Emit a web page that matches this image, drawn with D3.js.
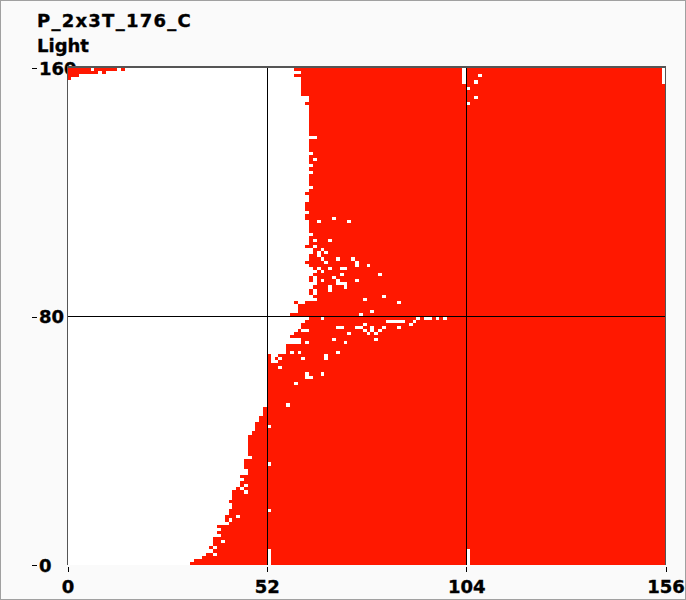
<!DOCTYPE html>
<html>
<head>
<meta charset="utf-8">
<script src="https://cdn.jsdelivr.net/npm/d3@7"></script>
<style>
  html, body { margin: 0; padding: 0; background: #fafafa; }
  svg { display: block; }
  text { font-family: "DejaVu Sans", sans-serif; font-weight: bold; fill: #000; stroke: #000; stroke-width: 0.35px; }
</style>
</head>
<body>
<div id="chart"></div>
<script>
const title = "P_2x3T_176_C";
const subtitle = "Light";
const xTicks = [0, 52, 104, 156];
const yTicks = [0, 80, 160];

// first red column of every row, top row first
const redStart = [
  59, 61, 59, 61, 61, 61, 61, 61, 61, 63,
  63, 62, 63, 63, 63, 63, 63, 63, 63, 63,
  63, 63, 65, 63, 63, 63, 63, 64, 63, 63,
  63, 64, 63, 64, 63, 63, 63, 63, 64, 63,
  62, 63, 63, 62, 62, 62, 63, 62, 62, 63,
  63, 63, 63, 64, 63, 63, 63, 62, 64, 64,
  63, 63, 62, 63, 64, 65, 64, 63, 63, 65,
  64, 63, 63, 64, 65, 62, 60, 60, 60, 58,
  63, 62, 61, 61, 60, 59, 58, 61, 61, 57,
  57, 57, 52, 52, 52, 52, 52, 52, 52, 52,
  52, 52, 52, 52, 52, 52, 52, 52, 52, 51,
  51, 51, 50, 50, 49, 49, 49, 48, 47, 47,
  47, 47, 47, 47, 47, 48, 46, 46, 46, 47,
  47, 45, 46, 45, 45, 44, 43, 43, 43, 42,
  43, 43, 42, 42, 41, 41, 42, 39, 40, 39,
  40, 38, 38, 38, 37, 38, 36, 35, 33, 32
];

// [column, row from top]
const whiteCells = [
  [103, 0], [103, 1], [103, 2], [103, 3], [103, 4],
  [155, 0], [155, 1], [155, 2], [155, 3], [155, 4],
  [107, 2], [106, 4], [104, 6], [106, 9], [104, 11],
  [64, 29], [65, 49], [69, 48], [73, 49],
  [64, 55], [68, 55], [64, 57], [66, 58], [67, 59], [65, 59], [65, 60],
  [66, 61], [70, 61], [74, 61], [67, 62], [75, 62], [75, 63], [78, 63],
  [65, 64], [68, 64], [71, 64], [72, 64], [66, 65], [71, 66], [81, 66],
  [69, 67], [64, 67], [64, 68], [66, 68], [70, 68], [70, 69], [71, 69],
  [72, 69], [72, 70], [75, 68], [68, 70], [68, 71], [64, 71], [64, 72],
  [82, 73], [77, 74], [86, 75], [79, 78], [76, 79],
  [66, 80], [91, 80], [93, 80], [94, 80], [96, 80], [98, 80],
  [61, 81], [83, 81], [84, 81], [85, 81], [86, 81], [87, 81], [90, 81],
  [77, 82], [89, 82], [70, 83], [71, 83], [75, 83], [76, 83], [79, 83],
  [82, 83], [86, 83], [77, 84], [79, 84], [81, 84], [61, 84], [62, 84],
  [73, 85], [78, 85], [80, 85], [69, 87], [80, 87], [62, 88], [72, 88],
  [58, 91], [60, 91], [70, 91], [67, 92], [67, 93], [61, 93], [55, 93],
  [53, 92], [54, 92], [53, 93], [53, 94], [54, 94], [55, 96],
  [62, 98], [62, 99], [63, 99], [66, 98], [59, 101], [57, 108],
  [52, 115], [52, 127], [46, 134], [45, 135], [46, 136], [52, 142],
  [44, 144], [42, 145], [40, 152], [38, 154], [38, 156],
  [52, 155], [52, 156], [52, 157], [52, 158], [52, 159],
  [104, 155], [104, 156], [104, 157], [104, 158], [104, 159]
];

// red cells inside the white area
const redCells = [
  [59, 75],
  [0, 0], [1, 0], [2, 0], [3, 0], [4, 0], [5, 0], [7, 0], [8, 0], [9, 0], [10, 0], [11, 0], [12, 0], [14, 0],
  [0, 1], [1, 1], [2, 1], [3, 1], [4, 1], [5, 1], [6, 1], [7, 1], [9, 1],
  [0, 2], [1, 2], [2, 2],
  [0, 3]
];

const width = 686, height = 600;
const plot = {left: 67.5, right: 665.5, top: 68, bottom: 565};
const red = "#ff1800";

const x = d3.scaleLinear().domain([0, 156]).range([plot.left, plot.right]);
const y = d3.scaleLinear().domain([0, 160]).range([plot.bottom, plot.top]);

// row 0 is the top one, so it holds y values 159 to 160
const rowTop = r => y(160 - r);
const rowBottom = r => y(159 - r);

const svg = d3.select("#chart").append("svg")
  .attr("width", width)
  .attr("height", height);

svg.append("rect")
  .attr("x", 0.5).attr("y", 0.5)
  .attr("width", width - 1).attr("height", height - 1)
  .attr("fill", "#fafafa")
  .attr("stroke", "#a0a0a0");

svg.append("text").attr("x", 37).attr("y", 27).style("font-size", "18px").style("letter-spacing", "1.25px").text(title);
svg.append("text").attr("x", 37).attr("y", 52).style("font-size", "18px").text(subtitle);

const yAxis = svg.append("g")
  .attr("transform", `translate(37,0)`)
  .call(d3.axisLeft(y).tickValues(yTicks).tickSize(5).tickPadding(-6));
yAxis.select(".domain").remove();
yAxis.selectAll("text")
  .attr("text-anchor", "start")
  .attr("x", 2)
  .attr("dy", "0.36em")
  .style("font-size", "18px");

const xAxis = svg.append("g")
  .attr("transform", `translate(0,${plot.bottom + 2})`)
  .call(d3.axisBottom(x).tickValues(xTicks).tickSize(5).tickPadding(8));
xAxis.select(".domain").remove();
xAxis.selectAll("text").style("font-size", "18px");

svg.selectAll("g.tick line").attr("stroke", "#000").attr("shape-rendering", "crispEdges");

// plot background goes over the 160 label like in the original
svg.append("rect")
  .attr("x", plot.left).attr("y", plot.top)
  .attr("width", plot.right - plot.left).attr("height", plot.bottom - plot.top)
  .attr("fill", "#fff");

const cells = svg.append("g").attr("shape-rendering", "crispEdges");

cells.selectAll("rect.row")
  .data(redStart)
  .enter().append("rect")
    .attr("class", "row")
    .attr("x", d => x(d))
    .attr("y", (d, i) => rowTop(i))
    .attr("width", d => x(156) - x(d))
    .attr("height", (d, i) => rowBottom(i) - rowTop(i))
    .attr("fill", red);

function drawCells(list, color) {
  cells.selectAll(null)
    .data(list)
    .enter().append("rect")
      .attr("x", d => x(d[0]))
      .attr("y", d => rowTop(d[1]))
      .attr("width", d => x(d[0] + 1) - x(d[0]))
      .attr("height", d => rowBottom(d[1]) - rowTop(d[1]))
      .attr("fill", color);
}
drawCells(whiteCells, "#fff");
drawCells(redCells, red);

// cross lines
const lines = svg.append("g").attr("shape-rendering", "crispEdges").attr("stroke", "#000");
lines.selectAll("line.v")
  .data(xTicks.slice(1, -1))
  .enter().append("line")
    .attr("class", "v")
    .attr("x1", d => x(d) + 0.5).attr("x2", d => x(d) + 0.5)
    .attr("y1", plot.top).attr("y2", plot.bottom);
lines.selectAll("line.h")
  .data(yTicks.slice(1, -1))
  .enter().append("line")
    .attr("class", "h")
    .attr("x1", plot.left).attr("x2", plot.right)
    .attr("y1", d => y(d)).attr("y2", d => y(d));

// frame: left and right sides, thick top
svg.append("path")
  .attr("d", `M${plot.left},${plot.bottom}V${plot.top}M${plot.right},${plot.top}V${plot.bottom}`)
  .attr("fill", "none")
  .attr("stroke", "#555");
svg.append("line")
  .attr("x1", plot.left - 0.5).attr("x2", plot.right + 0.5)
  .attr("y1", plot.top - 1).attr("y2", plot.top - 1)
  .attr("stroke", "#555")
  .attr("stroke-width", 2);
</script>
</body>
</html>
